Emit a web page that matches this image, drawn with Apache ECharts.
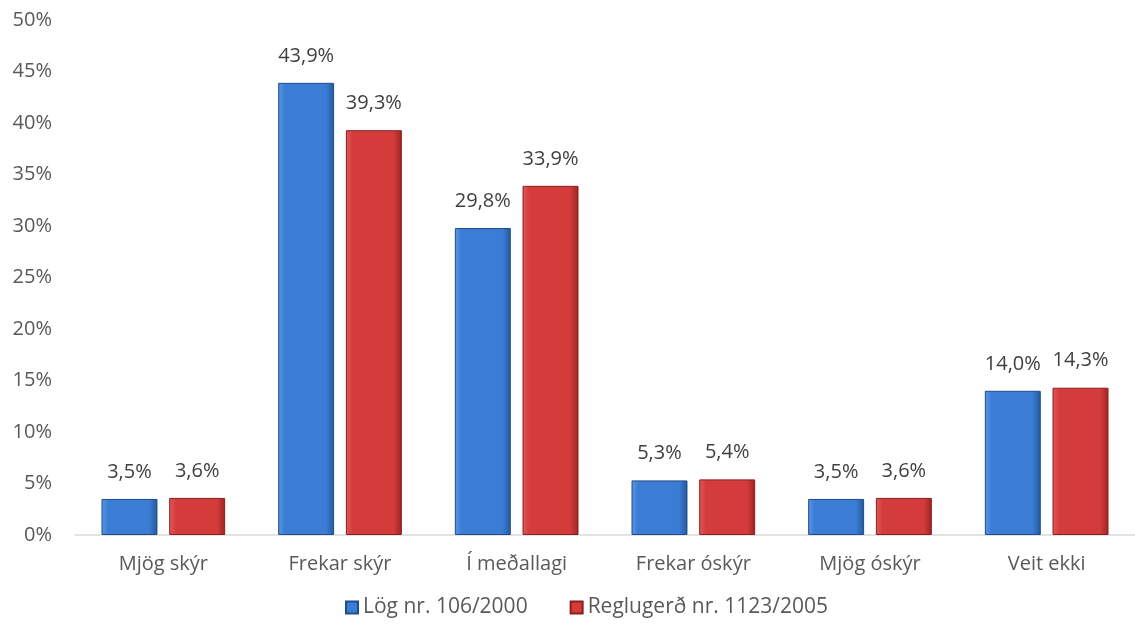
<!DOCTYPE html>
<html>
<head>
<meta charset="utf-8">
<script src="https://cdn.jsdelivr.net/npm/echarts@6/dist/echarts.min.js"></script>
<style>html,body{margin:0;padding:0;background:#fff}#c{width:1135px;height:628px}</style>
</head>
<body>
<div id="c"></div>
<script>
const categories = ['Mjög skýr', 'Frekar skýr', 'Í meðallagi', 'Frekar óskýr', 'Mjög óskýr', 'Veit ekki'];
const seriesNames = ['Lög nr. 106/2000', 'Reglugerð nr. 1123/2005'];
const logValues = [3.5, 43.9, 29.8, 5.3, 3.5, 14.0];
const reglValues = [3.6, 39.3, 33.9, 5.4, 3.6, 14.3];
const yTicks = [0, 5, 10, 15, 20, 25, 30, 35, 40, 45, 50];

const font = 'Open Sans';
function grad(light, mid, dark) {
  return new echarts.graphic.LinearGradient(0, 0, 1, 0, [
    {offset: 0, color: light},
    {offset: 0.12, color: mid},
    {offset: 0.85, color: mid},
    {offset: 1, color: dark}
  ]);
}
const fmt = p => p.value.toFixed(1).replace('.', ',') + '%';
const chart = echarts.init(document.getElementById('c'));
chart.setOption({
  animation: false,
  textStyle: {fontFamily: font},
  grid: {left: 75, right: -8, top: 20, bottom: 93, containLabel: false},
  legend: {
    left: 340, bottom: 5, itemWidth: 12, itemHeight: 12, itemGap: 42, icon: 'rect',
    textStyle: {fontSize: 21, color: '#595959', fontFamily: font},
    data: seriesNames
  },
  xAxis: {
    type: 'category', data: categories,
    axisLine: {lineStyle: {color: '#d9d9d9', width: 1.5}},
    axisTick: {show: false},
    axisLabel: {fontSize: 20, color: '#595959', margin: 19, fontFamily: font}
  },
  yAxis: {
    type: 'value', min: yTicks[0], max: yTicks[yTicks.length - 1], interval: 5,
    splitLine: {show: false},
    axisLine: {show: false}, axisTick: {show: false},
    axisLabel: {fontSize: 20, color: '#595959', margin: 23, formatter: v => v + '%', fontFamily: font}
  },
  series: [
    {
      name: seriesNames[0], type: 'bar', data: logValues,
      barCategoryGap: '30%', barGap: '21%',
      itemStyle: {color: grad('#5a97e6', '#3b7dd4', '#24589e'), borderColor: '#1f4c85', borderWidth: 1},
      label: {show: true, position: 'top', distance: 17, fontSize: 20, color: '#404040', formatter: fmt, fontFamily: font}
    },
    {
      name: seriesNames[1], type: 'bar', data: reglValues,
      itemStyle: {color: grad('#e05a5a', '#d43c3c', '#9e2424'), borderColor: '#8a1d1d', borderWidth: 1},
      label: {show: true, position: 'top', distance: 17, fontSize: 20, color: '#404040', formatter: fmt, fontFamily: font}
    }
  ]
});
</script>
</body>
</html>
